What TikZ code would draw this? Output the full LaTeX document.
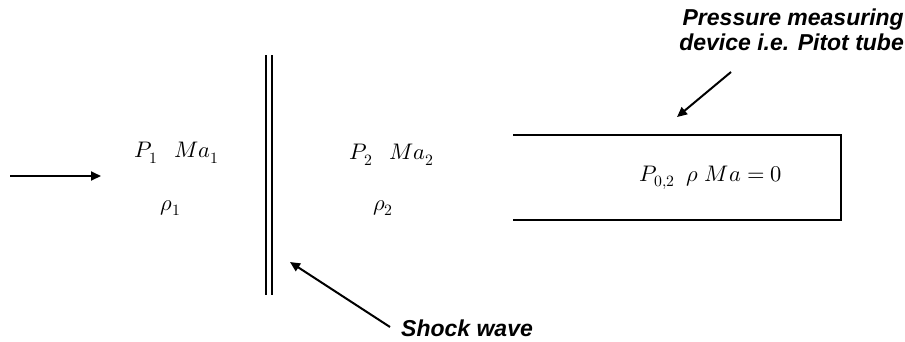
\documentclass[tikz,border=0pt]{standalone}
\usepackage{fontspec}
\usepackage{unicode-math}
\setsansfont{Liberation Sans}
\usetikzlibrary{arrows.meta}
\tikzset{
  lbl/.style={font=\sffamily\bfseries\itshape\fontsize{23}{24.5}\selectfont, inner sep=0pt},
  mth/.style={font=\fontsize{22.5}{26}\selectfont, inner sep=0pt},
  pointer/.style={line width=2pt, -{Triangle[length=10pt,width=9pt]}},
  wall/.style={line width=2pt},
}
\newcommand{\gp}{\hspace{0.75em}}
\begin{document}
\begin{tikzpicture}[x=1pt,y=-1pt]
\useasboundingbox (0,0) rectangle (905,341);
% flow arrow
\coordinate (fa) at (10,176);
\coordinate (fb) at (101,176);
\draw[pointer] (fa) -- (fb);
% upstream states
\node[mth] (s1) at (177,153) {$P_1\gp Ma_1$};
\node[mth] (r1) at (171,208) {$\rho_1$};
% shock wave
\coordinate (sh1t) at (266,55);
\coordinate (sh1b) at (266,295);
\coordinate (sh2t) at (272,55);
\coordinate (sh2b) at (272,295);
\draw[line width=1.6pt] (sh1t) -- (sh1b);
\draw[line width=1.6pt] (sh2t) -- (sh2b);
% downstream states
\node[mth] (s2) at (392,155) {$P_2\gp Ma_2$};
\node[mth] (r2) at (383,208) {$\rho_2$};
% shock label
\node[lbl, anchor=base west] (shl) at (401,336) {Shock wave};
\coordinate (shs) at (390,327);
\coordinate (sha) at (290,262);
\draw[pointer] (shs) -- (sha);
% pitot tube
\coordinate (t1) at (513,135);
\coordinate (t2) at (841,135);
\coordinate (t3) at (841,220);
\coordinate (t4) at (513,220);
\draw[wall] (t1) -- (t2) -- (t3) -- (t4);
\node[mth] (p0) at (711,178) {$P_{0,2}\hspace{0.5em}\rho\ Ma = 0$};
% pitot label
\node[lbl, anchor=north east, align=right] (pl) at (904,9) {Pressure measuring\\device i.e. Pitot tube};
\coordinate (pls) at (731,72);
\coordinate (pla) at (677,117);
\draw[pointer] (pls) -- (pla);
\end{tikzpicture}
\end{document}
